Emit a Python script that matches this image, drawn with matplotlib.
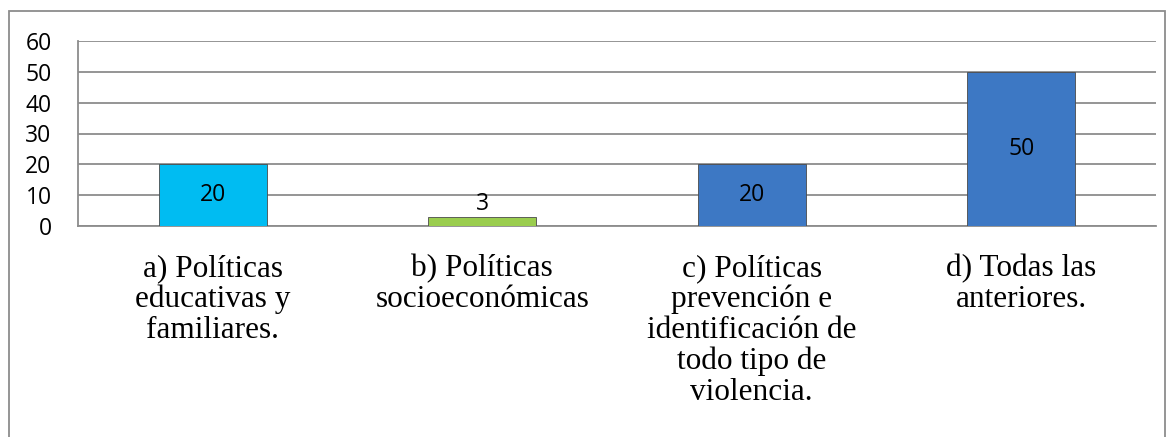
import matplotlib
matplotlib.use("Agg")
import matplotlib.pyplot as plt
from matplotlib.patches import Rectangle

categories = ["a) Políticas\neducativas y\nfamiliares.",
              "b) Políticas\nsocioeconómicas",
              "c) Políticas\nprevención e\nidentificación de\ntodo tipo de\nviolencia.",
              "d) Todas las\nanteriores."]
values = [20, 3, 20, 50]
colors = ["#00BCF2", "#9ACD4E", "#3D78C4", "#3D78C4"]
yticks = [0, 10, 20, 30, 40, 50, 60]

fig = plt.figure(figsize=(11.7, 4.37), dpi=100)
ax = fig.add_axes([78/1170, 1-226/437, (1156-78)/1170, (226-41)/437])

x = range(len(categories))
bars = ax.bar(x, values, width=0.4, color=colors, edgecolor="#4a4a4a", linewidth=0.6, zorder=3)
for xi, v in zip(x, values):
    if v >= 10:
        ax.text(xi, v/2, str(v), ha="center", va="center", fontsize=16.5, family="Open Sans", zorder=4)
    else:
        ax.text(xi, v + 0.2, str(v), ha="center", va="bottom", fontsize=16.5, family="Open Sans", zorder=4)

ax.set_xlim(-0.5, 3.5)
ax.set_ylim(0, 60)
ax.set_yticks(yticks)
ax.set_yticklabels([str(t) for t in yticks], fontsize=16.5, family="Open Sans")
ax.yaxis.grid(True, color="#8c8c8c", linewidth=1.3, zorder=0)
ax.set_axisbelow(True)
ax.tick_params(axis="y", length=0, pad=19)
ax.tick_params(axis="x", length=0, pad=20)
ax.set_xticks(list(x))
ax.set_xticklabels(categories, fontsize=22.5, family="Liberation Serif", va="top", linespacing=1.08)
for s in ["top", "right"]:
    ax.spines[s].set_visible(False)
ax.spines["left"].set_color("#8c8c8c")
ax.spines["left"].set_linewidth(1.3)
ax.spines["bottom"].set_color("#8c8c8c")
ax.spines["bottom"].set_linewidth(1.3)

border = Rectangle((9/1170, -0.05), (1165-9)/1170, 1-11/437+0.05, transform=fig.transFigure,
                   fill=False, edgecolor="#8c8c8c", linewidth=1.3, clip_on=False)
fig.patches.append(border)

fig.savefig("out.png", dpi=100)
